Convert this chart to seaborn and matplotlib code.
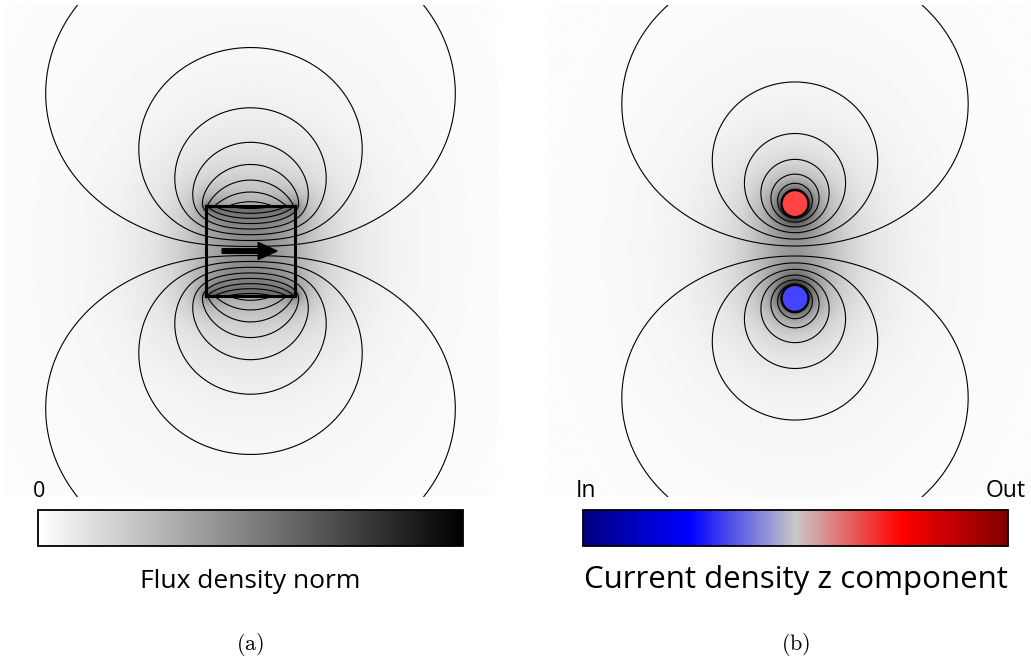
import numpy as np
import matplotlib
matplotlib.use("Agg")
import matplotlib.pyplot as plt
import seaborn as sns
from matplotlib.patches import Rectangle, Circle, FancyArrow
from matplotlib.cm import ScalarMappable
from matplotlib.colors import Normalize

# Geometry, in units of the magnet half-side
MAGNET_HALF = 1.0
WIRE_Y = [1.056, -1.056]
WIRE_SIGN = [1.0, -1.0]          # out of the page, into the page
WIRE_RADIUS = 0.30
WIRE_COLORS = ["#ff4444", "#4444ff"]
VIEW_HALF = 5.48                 # visible window
DOMAIN_HALF = 10.0               # square domain with A_z = 0 on its boundary

# Field-line levels of the vector potential A_z (mirrored for negative values)
LEVELS_MAGNET = [0.315, 0.73, 1.145, 1.56, 1.975, 2.39, 2.805, 3.22]
LEVELS_WIRES = [0.21, 0.51, 0.81, 1.11, 1.41, 1.71, 2.01]
BMAX_MAGNET = 7.0
BMAX_WIRES = 4.6

CBAR_TITLES = ["Flux density norm", "Current density z component"]
CBAR_TITLE_SIZES = [19, 22.5]
CBAR_ENDS = [("0", ""), ("In", "Out")]
PANEL_TAGS = ["(a)", "(b)"]
CURRENT_COLORS = ["#000080", "#0000ff", "#c8c8c8", "#ff0000", "#800000"]

sns.set_theme(style="white")
plt.rcParams["font.family"] = ["Open Sans", "DejaVu Sans"]
plt.rcParams["mathtext.fontset"] = "cm"
plt.rcParams["text.color"] = "black"

W, H = 1031, 660
fig = plt.figure(figsize=(W / 100, H / 100), dpi=100)
fig.patch.set_facecolor("white")


def px_axes(x0, y0, x1, y1):
    return fig.add_axes([x0 / W, 1 - y1 / H, (x1 - x0) / W, (y1 - y0) / H])


# sampling grid
n = 640
s = np.linspace(-VIEW_HALF, VIEW_HALF, n)
X, Y = np.meshgrid(s, s)
step = s[1] - s[0]


def strip_potential(dx, dy, w=MAGNET_HALF):
    """A_z of a uniform current strip spanning -w..w (unit density)."""
    d = np.where(np.abs(dy) < 1e-9, 1e-9, dy)

    def G(u):
        return u * np.log(u * u + d * d + 1e-300) - 2 * u + 2 * d * np.arctan(u / d)

    return -0.5 * (G(dx + w) - G(dx - w))


def line_potential(dx, dy):
    return -np.log(np.maximum(np.hypot(dx, dy), 1e-6))


def boxed_potential(func, sources, L=DOMAIN_HALF, M=6):
    """Superpose mirror images so that A_z vanishes on the square boundary."""
    total = np.zeros_like(X)
    for m in range(-M, M + 1):
        for k in range(-M, M + 1):
            for x0, y0, sg in sources:
                xm = 2 * m * L + (-1) ** m * x0
                yk = 2 * k * L + (-1) ** k * y0
                total += (-1) ** (m + k) * sg * func(X - xm, Y - yk)
    return total


def field_norm(A):
    gy, gx = np.gradient(A, step, step)
    return np.hypot(gx, gy)


# (a) magnet magnetised along +x: equivalent surface currents on top/bottom faces
A_mag = boxed_potential(strip_potential, [(0.0, MAGNET_HALF, 1.0), (0.0, -MAGNET_HALF, -1.0)])
B_mag = field_norm(A_mag)

# (b) pair of opposite line currents
A_w = boxed_potential(line_potential, [(0.0, yw, sg) for yw, sg in zip(WIRE_Y, WIRE_SIGN)])
B_w = field_norm(A_w)

gray_cmap = sns.blend_palette(["white", "black"], as_cmap=True)
cur_cmap = sns.blend_palette(CURRENT_COLORS, as_cmap=True)

ext = [-VIEW_HALF, VIEW_HALF, -VIEW_HALF, VIEW_HALF]

# panel (a)
axa = px_axes(4, 5, 497, 497)
axa.imshow(B_mag, cmap=gray_cmap, vmin=0, vmax=BMAX_MAGNET, origin="lower",
           extent=ext, interpolation="bilinear")
lv = sorted([-v for v in LEVELS_MAGNET] + LEVELS_MAGNET)
axa.contour(X, Y, A_mag, levels=lv, colors="black", linewidths=0.8, linestyles="solid")
axa.add_patch(Rectangle((-MAGNET_HALF, -MAGNET_HALF), 2 * MAGNET_HALF, 2 * MAGNET_HALF,
                        fill=False, edgecolor="black", lw=2.2, zorder=5))
axa.add_patch(FancyArrow(-0.63, 0.0, 1.22, 0.0, width=0.10, head_width=0.38,
                         head_length=0.42, length_includes_head=True,
                         color="black", zorder=6))
axa.set_xlim(-VIEW_HALF, VIEW_HALF)
axa.set_ylim(-VIEW_HALF, VIEW_HALF)
axa.set_aspect("auto")
axa.axis("off")

# panel (b)
axb = px_axes(549, 5, 1041, 497)
axb.imshow(B_w, cmap=gray_cmap, vmin=0, vmax=BMAX_WIRES, origin="lower",
           extent=ext, interpolation="bilinear")
lv = sorted([-v for v in LEVELS_WIRES] + LEVELS_WIRES)
axb.contour(X, Y, A_w, levels=lv, colors="black", linewidths=0.8, linestyles="solid")
for yw, col in zip(WIRE_Y, WIRE_COLORS):
    axb.add_patch(Circle((0, yw), WIRE_RADIUS, facecolor=col, edgecolor="black",
                         lw=1.6, zorder=5))
axb.set_xlim(-VIEW_HALF, VIEW_HALF)
axb.set_ylim(-VIEW_HALF, VIEW_HALF)
axb.set_aspect("auto")
axb.axis("off")

# colour bars with their captions
for (x0, x1), cmap, title, tsize, ends, tag in zip(
        [(38, 463), (583, 1008)], [gray_cmap, cur_cmap], CBAR_TITLES, CBAR_TITLE_SIZES,
        CBAR_ENDS, PANEL_TAGS):
    cax = px_axes(x0, 510, x1, 546)
    cb = fig.colorbar(ScalarMappable(norm=Normalize(0, 1), cmap=cmap), cax=cax,
                      orientation="horizontal")
    cb.set_ticks([])
    cb.outline.set_linewidth(1.3)
    cb.outline.set_edgecolor("black")
    xc = (x0 + x1) / 2
    fig.text(xc / W, 1 - 588 / H, title, ha="center", va="baseline", fontsize=tsize)
    fig.text(xc / W, 1 - 645 / H, r"$\mathrm{" + tag + "}$", ha="center", va="center",
             fontsize=16)
    left, right = ends
    if left == "0":
        fig.text(39 / W, 1 - 497 / H, left, ha="center", va="baseline", fontsize=15.5)
    elif left:
        fig.text(576 / W, 1 - 497 / H, left, ha="left", va="baseline", fontsize=16.5)
    if right:
        fig.text(1026 / W, 1 - 497 / H, right, ha="right", va="baseline", fontsize=16.5)

fig.savefig("out.png", dpi=100)
